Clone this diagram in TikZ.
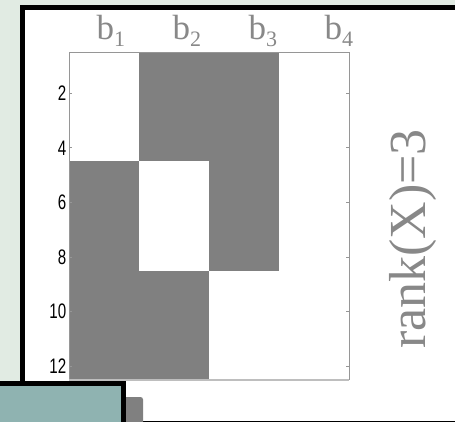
\documentclass[tikz,border=0pt]{standalone}
\usepackage{fontspec}
\setmainfont{Liberation Serif}
\newfontfamily\ticksans{Liberation Sans}
\definecolor{bgc}{RGB}{225,235,227}
\definecolor{tealc}{RGB}{143,179,177}
\definecolor{cellgray}{RGB}{128,128,128}
\definecolor{txtgray}{RGB}{136,136,136}
\definecolor{axisgray}{RGB}{150,150,150}
\definecolor{axislight}{RGB}{190,190,190}
\begin{document}
\begin{tikzpicture}[x=1pt,y=-1pt,
  cell/.style={fill=cellgray},
  axisline/.style={draw=axisgray,line width=0.8pt},
  ticklbl/.style={anchor=east,inner sep=0pt,font=\ticksans\fontsize{21}{21}\selectfont},
  collbl/.style={anchor=base west,inner sep=0pt,text=txtgray,font=\fontsize{35}{35}\selectfont},
  blackframe/.style={draw=black,line width=5pt}]
\useasboundingbox (0,0) rectangle (455,422);
\fill[bgc] (0,0) rectangle (455,422);
\draw[blackframe,fill=white] (22.5,7.5) rectangle (470,423.5);
% matrix cells
\fill[cell] (69.3,161.5) rectangle (139.3,379.7);
\fill[cell] (139.3,52.3) rectangle (209.3,161.5);
\fill[cell] (139.3,270.7) rectangle (209.3,379.7);
\fill[cell] (209.3,52.3) rectangle (279.3,270.7);
% axes
\draw[axisline] (69.3,52.3) rectangle (349.3,379.7);
\draw[draw=axislight,line width=1.6pt] (69.3,379.7) -- (349.3,379.7);
\foreach \k in {2,4,...,12}{
  \draw[axisline] (69.3,{52.3+(\k-0.5)*27.3}) -- (72.3,{52.3+(\k-0.5)*27.3});
  \draw[axisline] (349.3,{52.3+(\k-0.5)*27.3}) -- (346.3,{52.3+(\k-0.5)*27.3});
  \node[ticklbl] (tick\k) at (66.5,{52.3+(\k-0.5)*27.3}) {\scalebox{0.72}[1]{\k}};
}
% column labels
\node[collbl] (b1) at (96.5,40) {b\raisebox{-7pt}{\fontsize{22}{22}\selectfont 1}};
\node[collbl] (b2) at (172.5,40) {b\raisebox{-7pt}{\fontsize{22}{22}\selectfont 2}};
\node[collbl] (b3) at (248.5,40) {b\raisebox{-7pt}{\fontsize{22}{22}\selectfont 3}};
\node[collbl] (b4) at (324.5,40) {b\raisebox{-7pt}{\fontsize{22}{22}\selectfont 4}};
% rank label
\node[rotate=90,anchor=base,inner sep=0pt,text=txtgray,font=\fontsize{52}{52}\selectfont] (rank) at (425,239) {rank(X)=3};
% bottom-left decorations
\fill[cellgray,rounded corners=2.5pt] (124,397) rectangle (143,440);
\draw[blackframe,fill=tealc] (-10,383.5) rectangle (123.5,440);
\end{tikzpicture}
\end{document}
